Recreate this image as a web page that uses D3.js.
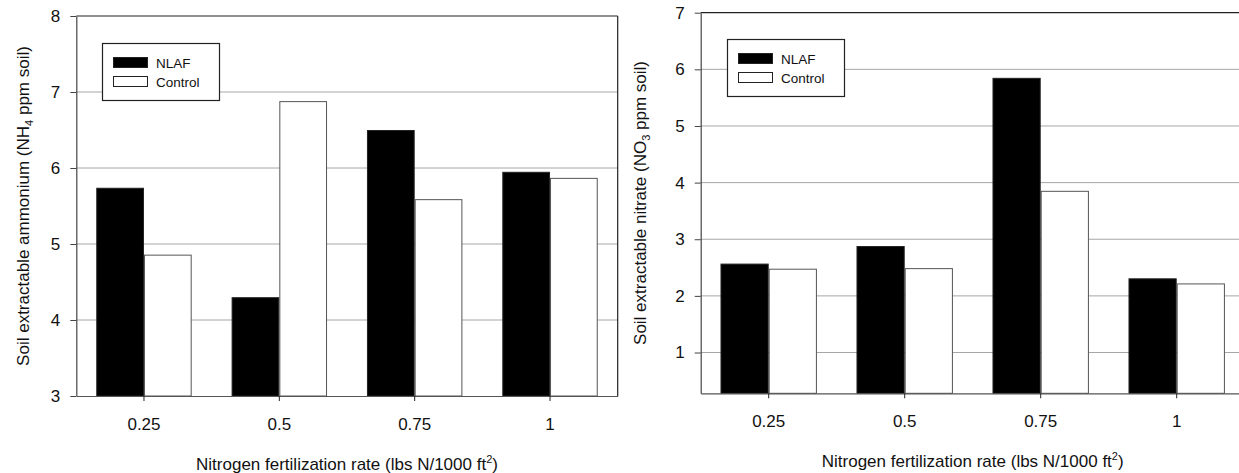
<!DOCTYPE html>
<html>
<head>
<meta charset="utf-8">
<script src="https://cdn.jsdelivr.net/npm/d3@7"></script>
<style>
  html, body { margin: 0; padding: 0; background: #fff; }
  svg { display: block; font-family: "Liberation Sans", Arial, sans-serif; }
</style>
</head>
<body>
<svg id="chart" width="1239" height="473"></svg>
<script>
// ---- data ----
const categories = ["0.25", "0.5", "0.75", "1"];
const seriesNames = ["NLAF", "Control"];

const ammoniumNLAF    = [5.74, 4.30, 6.50, 5.95];
const ammoniumControl = [4.86, 6.88, 5.59, 5.87];
const ammoniumTicks   = [3, 4, 5, 6, 7, 8];

const nitrateNLAF     = [2.57, 2.88, 5.85, 2.31];
const nitrateControl  = [2.48, 2.49, 3.855, 2.22];
const nitrateTicks    = [1, 2, 3, 4, 5, 6, 7];

const xTitle = "Nitrogen fertilization rate (lbs N/1000 ft";
// ----------------

const svg = d3.select("#chart");

function drawPanel(cfg) {
  const g = svg.append("g");
  const x = d3.scaleBand().domain(categories).range([cfg.left, cfg.right]).padding(0);
  const y = d3.scaleLinear().domain(cfg.domain).range([cfg.bottom, cfg.top]);
  const bw = x.bandwidth() * cfg.barFrac;

  // gridlines
  g.append("g").selectAll("line")
    .data(cfg.ticks.filter(t => t > cfg.domain[0] && t < cfg.domain[1]))
    .join("line")
    .attr("x1", cfg.left).attr("x2", cfg.right)
    .attr("y1", d => y(d)).attr("y2", d => y(d))
    .attr("stroke", "#a6a6a6").attr("stroke-width", 1);

  // bars
  const rows = categories.map((c, i) => ({ c, vals: [cfg.nlaf[i], cfg.control[i]] }));
  const fills = ["#000", "#fff"];
  const strokes = ["#222", "#555"];
  rows.forEach(r => {
    r.vals.forEach((v, j) => {
      const cx = x(r.c) + x.bandwidth() / 2;
      const x0 = j === 0 ? cx - bw : cx;
      g.append("rect")
        .attr("x", x0 + 0.5).attr("y", y(v) + 0.5)
        .attr("width", bw - 1).attr("height", y(cfg.domain[0]) - y(v) - 0.5)
        .attr("fill", fills[j]).attr("stroke", strokes[j]).attr("stroke-width", 1);
    });
  });

  // frame top & right
  g.append("line").attr("x1", cfg.left).attr("x2", cfg.right)
    .attr("y1", y(cfg.domain[1])).attr("y2", y(cfg.domain[1]))
    .attr("stroke", "#222").attr("stroke-width", 1.2);
  g.append("line").attr("x1", cfg.right).attr("x2", cfg.right)
    .attr("y1", cfg.top).attr("y2", cfg.bottom)
    .attr("stroke", "#222").attr("stroke-width", 1.2);

  // y axis
  const ya = g.append("g").attr("transform", `translate(${cfg.left},0)`)
    .call(d3.axisLeft(y).tickValues(cfg.ticks).tickSize(6).tickSizeOuter(0).tickPadding(10)
      .tickFormat(d3.format("d")));
  ya.select(".domain").attr("stroke", "#444").attr("stroke-width", 1.2);
  ya.selectAll(".tick line").attr("stroke", "#444");
  ya.selectAll(".tick text").attr("font-size", 17).attr("fill", "#111")
    .attr("font-family", "Liberation Sans, Arial, sans-serif");

  // x axis
  const xa = g.append("g").attr("transform", `translate(0,${cfg.bottom})`)
    .call(d3.axisBottom(x).tickSize(5).tickSizeOuter(0).tickPadding(17));
  xa.select(".domain").attr("stroke", "#555").attr("stroke-width", 1.2);
  xa.selectAll(".tick line").attr("stroke", "#222");
  xa.selectAll(".tick text").attr("font-size", 17).attr("fill", "#111")
    .attr("font-family", "Liberation Sans, Arial, sans-serif");

  // x title
  const xt = g.append("text")
    .attr("x", (cfg.left + cfg.right) / 2).attr("y", cfg.bottom + 74)
    .attr("text-anchor", "middle").attr("font-size", 17).attr("fill", "#111");
  xt.append("tspan").text(xTitle);
  xt.append("tspan").attr("font-size", 11).attr("dy", -7).text("2");
  xt.append("tspan").attr("dy", 7).text(")");

  // y title
  const yt = g.append("text")
    .attr("transform", `translate(${cfg.ytx},${(cfg.top + cfg.bottom) / 2}) rotate(-90)`)
    .attr("text-anchor", "middle").attr("font-size", 17).attr("fill", "#111");
  yt.append("tspan").text(cfg.yTitleA);
  yt.append("tspan").attr("font-size", 11).attr("dy", 4).text(cfg.yTitleSub);
  yt.append("tspan").attr("dy", -4).text(cfg.yTitleB);

  // legend
  const L = cfg.legend;
  const lg = g.append("g");
  lg.append("rect").attr("x", L.x + 0.5).attr("y", L.y + 0.5).attr("width", 117).attr("height", 57)
    .attr("fill", "#fff").attr("stroke", "#222").attr("stroke-width", 1.2);
  seriesNames.forEach((s, j) => {
    lg.append("rect").attr("x", L.x + 11.5).attr("y", L.y + 14.5 + j * 19)
      .attr("width", 34).attr("height", 10)
      .attr("fill", fills[j]).attr("stroke", "#222").attr("stroke-width", 1);
    lg.append("text").attr("x", L.x + 54).attr("y", L.y + 24.5 + j * 19)
      .attr("font-size", 13.5).attr("fill", "#111").text(s);
  });
}

drawPanel({
  left: 76.3, right: 617.7, top: 16, bottom: 396,
  domain: [3, 8], ticks: ammoniumTicks, barFrac: 0.3525,
  nlaf: ammoniumNLAF, control: ammoniumControl,
  yTitleA: "Soil extractable ammonium (NH", yTitleSub: "4", yTitleB: " ppm soil)",
  ytx: 29, legend: { x: 102, y: 43 }
});

drawPanel({
  left: 700.7, right: 1244.7, top: 12.7, bottom: 393.3,
  domain: [0.28, 7], ticks: nitrateTicks, barFrac: 0.3545,
  nlaf: nitrateNLAF, control: nitrateControl,
  yTitleA: "Soil extractable nitrate (NO", yTitleSub: "3", yTitleB: " ppm soil)",
  ytx: 646, legend: { x: 727, y: 39 }
});
</script>
</body>
</html>
